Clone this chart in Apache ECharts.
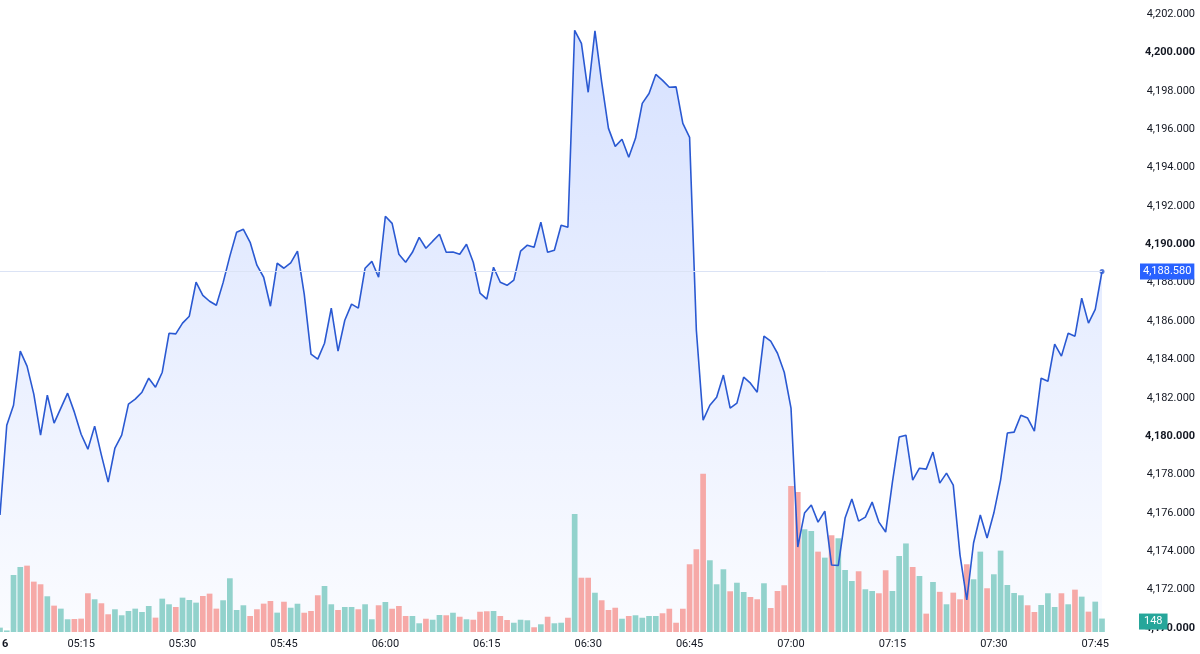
<!DOCTYPE html>
<html>
<head>
<meta charset="utf-8">
<style>
  html, body { margin: 0; padding: 0; background: #ffffff; }
  #chart { width: 1200px; height: 654px; }
</style>
<script src="https://cdn.jsdelivr.net/npm/echarts@6/dist/echarts.min.js"></script>
</head>
<body>
<div id="chart"></div>
<script>
// ---- data ----
const startTime = '05:03';          // first minute bar
const tickLabels = ['05:15','05:30','05:45','06:00','06:15','06:30','06:45','07:00','07:15','07:30','07:45'];
const dayLabel = '6';
const priceTicks = { min: 4170, max: 4202, step: 2 };

const prices = [
 4175.89, 4180.57, 4181.61, 4184.43, 4183.65, 4182.19, 4180.05, 4182.14, 4180.68, 4181.46,
 4182.24, 4181.25, 4180.10, 4179.32, 4180.52, 4179.01, 4177.60, 4179.38, 4180.05, 4181.67,
 4181.93, 4182.29, 4183.02, 4182.55, 4183.33, 4185.36, 4185.33, 4185.89, 4186.25, 4188.02,
 4187.34, 4187.03, 4186.82, 4188.00, 4189.38, 4190.63, 4190.78, 4190.10, 4188.91, 4188.28,
 4186.77, 4189.01, 4188.75, 4189.03, 4189.64, 4187.40, 4184.27, 4184.01, 4184.84, 4186.67,
 4184.43, 4186.04, 4186.88, 4186.67, 4188.75, 4189.11, 4188.28, 4191.46, 4191.09, 4189.48,
 4189.06, 4189.58, 4190.36, 4189.79, 4190.16, 4190.52, 4189.58, 4189.60, 4189.48, 4190.00,
 4189.06, 4187.45, 4187.14, 4188.80, 4188.02, 4187.86, 4188.13, 4189.64, 4189.95, 4189.84,
 4191.15, 4189.58, 4189.69, 4190.99, 4190.89, 4201.15, 4200.47, 4197.92, 4201.12, 4198.44,
 4196.04, 4195.10, 4195.47, 4194.53, 4195.52, 4197.34, 4197.86, 4198.85, 4198.54, 4198.18,
 4198.20, 4196.30, 4195.57, 4185.52, 4180.83, 4181.61, 4182.03, 4183.18, 4181.46, 4181.72,
 4183.07, 4182.76, 4182.29, 4185.21, 4184.95, 4184.32, 4183.33, 4181.46, 4174.22, 4175.99,
 4176.41, 4175.52, 4176.09, 4173.28, 4173.26, 4175.73, 4176.72, 4175.57, 4175.78, 4176.56,
 4175.52, 4175.00, 4177.60, 4179.95, 4180.05, 4177.71, 4178.33, 4178.28, 4179.17, 4177.55,
 4178.07, 4177.45, 4173.80, 4171.46, 4174.43, 4175.89, 4174.69, 4175.99, 4177.71, 4180.16,
 4180.21, 4181.09, 4180.94, 4180.26, 4183.02, 4182.86, 4184.79, 4184.17, 4185.36, 4185.21,
 4187.19, 4185.89, 4186.61, 4188.58
];

const volumes = [
 48, 17, 627, 715, 730, 554, 525, 393, 290, 257,
 140, 143, 147, 426, 360, 316, 195, 250, 184, 231,
 257, 220, 286, 158, 367, 305, 275, 378, 352, 323,
 396, 422, 257, 349, 591, 242, 294, 176, 250, 312,
 341, 213, 333, 267, 311, 212, 231, 404, 506, 305,
 242, 275, 275, 250, 305, 140, 294, 330, 256, 286,
 176, 176, 96, 146, 135, 187, 184, 212, 168, 140,
 135, 223, 228, 231, 176, 132, 102, 135, 129, 52,
 85, 168, 96, 102, 157, 1298, 597, 597, 432, 349,
 242, 267, 146, 176, 184, 157, 176, 176, 206, 256,
 102, 256, 745, 910, 1741, 789, 525, 690, 448, 542,
 440, 385, 360, 536, 264, 451, 514, 1606, 1540, 1130,
 1111, 884, 818, 1064, 1031, 682, 561, 668, 470, 451,
 426, 679, 451, 836, 974, 715, 616, 202, 550, 442,
 305, 433, 360, 745, 580, 884, 481, 635, 895, 517,
 429, 404, 294, 220, 297, 426, 275, 426, 305, 466,
 389, 224, 334, 148
];

// 1 = up bar (green), 0 = down bar (red)
const volUp = [
 1,1,1,1,0,0,0,1,0,1,
 1,0,0,0,1,0,0,1,1,1,
 1,1,1,0,1,1,0,1,1,1,
 0,0,0,1,1,1,1,0,0,0,
 0,1,0,1,1,0,0,0,1,1,
 0,1,1,0,1,1,0,1,0,0,
 0,1,1,0,1,1,0,1,0,1,
 0,0,0,1,0,0,1,1,1,0,
 1,0,1,1,0,1,0,0,1,0,
 0,0,1,0,1,1,1,1,0,0,
 0,0,0,0,0,1,1,1,0,1,
 1,0,0,1,0,0,0,0,0,1,
 1,0,1,0,1,1,1,0,1,1,
 0,0,1,1,1,0,1,0,1,0,
 1,0,0,0,1,1,0,1,1,1,
 1,1,0,0,1,1,1,0,1,0,
 1,0,1,1
];

// ---- helpers ----
const categories = (function () {
  const [h0, m0] = startTime.split(':').map(Number);
  const out = [];
  for (let i = 0; i < prices.length; i++) {
    const t = h0 * 60 + m0 + i;
    const h = Math.floor(t / 60), m = t % 60;
    out.push(String(h).padStart(2, '0') + ':' + String(m).padStart(2, '0'));
  }
  return out;
})();

function fmtPrice(v) {
  const s = Number(v).toFixed(3);
  const [ip, dp] = s.split('.');
  return ip.replace(/\B(?=(\d{3})+(?!\d))/g, ',') + '.' + dp;
}

const FONT = 'Roboto, "Noto Sans", sans-serif';
const UP = '#92d2cc', DOWN = '#f6a9a7';
const LINE = '#2a59d2';
const lastIdx = prices.length - 1;
const lastPrice = prices[lastIdx];
const lastVol = volumes[lastIdx];

const chart = echarts.init(document.getElementById('chart'), null, { renderer: 'canvas' });

const option = {
  animation: false,
  backgroundColor: '#ffffff',
  grid: [
    { left: -1, right: 98, top: 14, bottom: 26 },
    { left: -1, right: 98, bottom: 22, height: 300 }
  ],
  xAxis: [
    {
      type: 'category', gridIndex: 0, data: categories, boundaryGap: false,
      axisLine: { show: false }, axisTick: { show: false }, splitLine: { show: false },
      axisLabel: {
        interval: (idx, val) => tickLabels.indexOf(val) >= 0,
        color: '#131722', fontSize: 11, fontFamily: FONT, margin: 11
      }
    },
    {
      type: 'category', gridIndex: 1, data: categories, boundaryGap: false,
      show: false
    }
  ],
  yAxis: [
    {
      type: 'value', gridIndex: 0, position: 'right',
      min: priceTicks.min, max: priceTicks.max, interval: priceTicks.step,
      axisLine: { show: false }, axisTick: { show: false }, splitLine: { show: false },
      axisLabel: {
        align: 'right', margin: 93, color: '#131722', fontSize: 11, fontFamily: FONT,
        formatter: v => (v % 10 === 0 ? '{b|' + fmtPrice(v) + '}' : fmtPrice(v)),
        rich: { b: { fontWeight: 'bold', fontSize: 11, fontFamily: FONT, color: '#131722' } }
      }
    },
    {
      type: 'value', gridIndex: 1, min: 0, max: 3300, show: false
    }
  ],
  graphic: [
    {
      type: 'text', left: 2, top: 639,
      style: { text: dayLabel, fontSize: 11, fontWeight: 'bold', fontFamily: FONT, fill: '#131722' }
    }
  ],
  series: [
    {
      name: 'area', type: 'line', xAxisIndex: 0, yAxisIndex: 0, data: prices,
      symbol: 'none', silent: true, z: 1,
      lineStyle: { width: 0 },
      areaStyle: {
        color: new echarts.graphic.LinearGradient(0, 0, 0, 1, [
          { offset: 0, color: 'rgba(41,98,255,0.27)' },
          { offset: 1, color: 'rgba(41,98,255,0.03)' }
        ])
      }
    },
    {
      name: 'volume', type: 'bar', xAxisIndex: 1, yAxisIndex: 1, z: 2, clip: false,
      barCategoryGap: '16%', silent: true,
      data: volumes.map((v, i) => ({ value: v, itemStyle: { color: volUp[i] ? UP : DOWN } }))
    },
    {
      name: 'volLabel', type: 'line', xAxisIndex: 1, yAxisIndex: 1, z: 5, silent: true,
      data: [], symbol: 'none',
      markLine: {
        symbol: 'none', silent: true,
        lineStyle: { width: 0, color: 'rgba(0,0,0,0)' },
        data: [{ yAxis: lastVol }],
        label: {
          show: true, position: 'end', distance: 37, formatter: String(lastVol),
          backgroundColor: '#26a69a', color: '#ffffff', padding: [3, 5, 2, 5],
          fontSize: 11, fontFamily: FONT, offset: [0, 3]
        }
      }
    },
    {
      name: 'price', type: 'line', xAxisIndex: 0, yAxisIndex: 0, data: prices,
      symbol: 'none', z: 3, silent: true,
      lineStyle: { color: LINE, width: 1.6 },
      markLine: {
        symbol: 'none', silent: true,
        lineStyle: { color: '#dbe3f5', width: 1, type: 'solid' },
        data: [{ yAxis: lastPrice }],
        label: {
          position: 'end', distance: 38, formatter: fmtPrice(lastPrice),
          backgroundColor: '#2962ff', color: '#ffffff', padding: [3, 3, 2, 3],
          fontSize: 11, fontFamily: FONT
        }
      }
    },
    {
      name: 'last', type: 'scatter', xAxisIndex: 0, yAxisIndex: 0, z: 4, silent: true,
      symbolSize: 5, itemStyle: { color: LINE },
      data: [[lastIdx, lastPrice]]
    }
  ]
};

chart.setOption(option);
</script>
</body>
</html>
